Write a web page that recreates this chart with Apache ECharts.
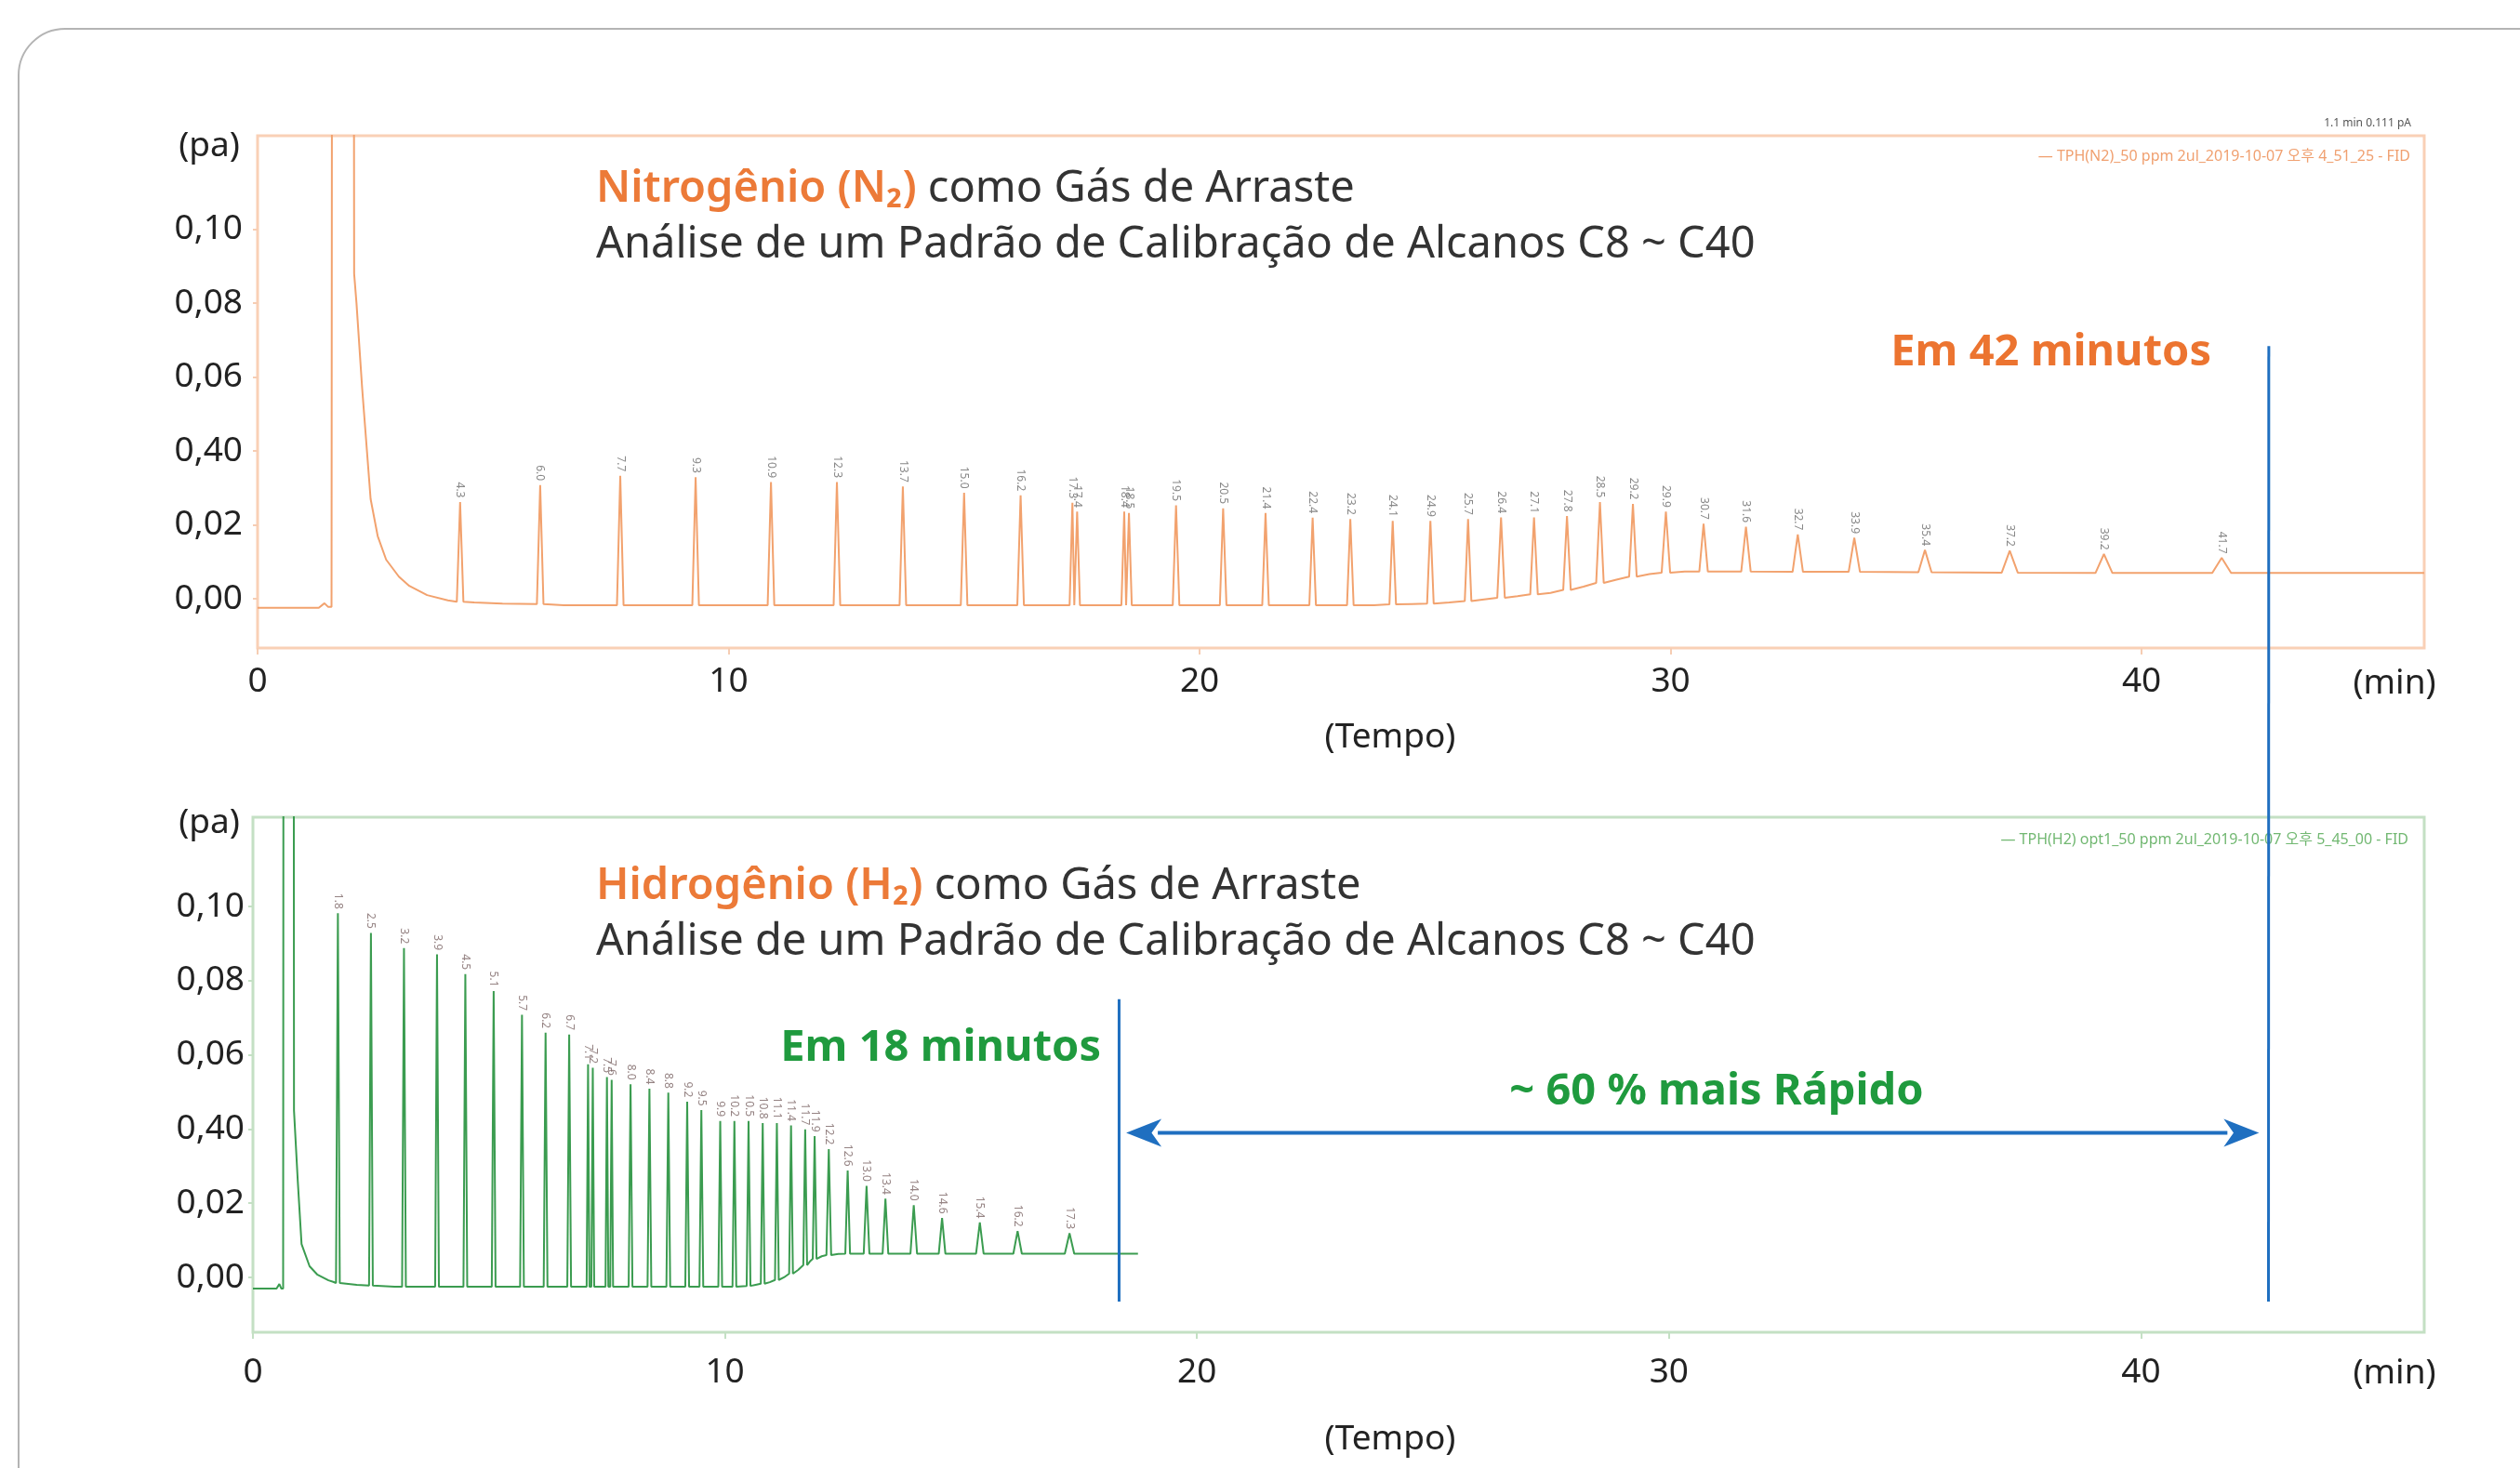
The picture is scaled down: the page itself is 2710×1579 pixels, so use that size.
<!DOCTYPE html>
<html>
<head>
<meta charset="utf-8">
<script src="https://cdn.jsdelivr.net/npm/echarts@6/dist/echarts.min.js"></script>
<style>
html,body{margin:0;padding:0;background:#fff;}
#chart{width:2710px;height:1579px;}
</style>
</head>
<body>
<div id="chart"></div>
<script>
// ---------- DATA ----------
const xTickValues = [0, 10, 20, 30, 40];
const yTickValues = [0, 0.02, 0.04, 0.06, 0.08, 0.10];
const yTickLabels = ['0,00', '0,02', '0,40', '0,06', '0,08', '0,10'];

// N2 carrier gas run: peak retention times (min), apex heights, foot levels, half widths (min)
const n2Times   = [4.3, 6.0, 7.7, 9.3, 10.9, 12.3, 13.7, 15.0, 16.2, 17.3, 17.4, 18.4, 18.5, 19.5, 20.5, 21.4, 22.4, 23.2, 24.1, 24.9, 25.7, 26.4, 27.1, 27.8, 28.5, 29.2, 29.9, 30.7, 31.6, 32.7, 33.9, 35.4, 37.2, 39.2, 41.7];
const n2Heights = [0.0262, 0.0308, 0.0333, 0.0329, 0.0316, 0.0316, 0.0304, 0.0287, 0.0280, 0.0260, 0.0236, 0.0236, 0.0232, 0.0253, 0.0245, 0.0232, 0.0220, 0.0216, 0.0211, 0.0211, 0.0216, 0.0220, 0.0220, 0.0224, 0.0262, 0.0257, 0.0236, 0.0203, 0.0195, 0.0174, 0.0165, 0.0132, 0.0130, 0.0121, 0.0111];
const n2Bases   = [-0.0008, -0.0014, -0.0017, -0.0017, -0.0017, -0.0017, -0.0017, -0.0017, -0.0017, -0.0017, -0.0017, -0.0017, -0.0017, -0.0017, -0.0017, -0.0017, -0.0017, -0.0017, -0.0015, -0.0013, -0.0006, 0.0003, 0.0012, 0.0024, 0.0043, 0.0060, 0.0071, 0.0074, 0.0074, 0.0073, 0.0073, 0.0072, 0.0071, 0.0070, 0.0070];
const n2HalfW   = [0.07, 0.07, 0.07, 0.07, 0.07, 0.07, 0.07, 0.07, 0.07, 0.06, 0.06, 0.06, 0.06, 0.07, 0.07, 0.07, 0.07, 0.07, 0.07, 0.07, 0.07, 0.08, 0.08, 0.08, 0.08, 0.08, 0.09, 0.09, 0.10, 0.11, 0.12, 0.14, 0.17, 0.18, 0.20];
const n2Baseline = [[0, -0.0024], [1.30, -0.0024], [1.42, -0.0012], [1.50, -0.0022], [1.57, -0.0022], [1.60, 0.5], [2.02, 0.5], [2.05, 0.088], [2.10, 0.080], [2.22, 0.057], [2.40, 0.027], [2.55, 0.017], [2.73, 0.0106], [3.00, 0.0060], [3.22, 0.0035], [3.60, 0.0010], [4.04, -0.0004], [4.60, -0.0010], [5.20, -0.0013], [6.50, -0.0017], [23.70, -0.0017], [24.50, -0.0014], [25.30, -0.0010], [26.00, -0.0002], [26.75, 0.0007], [27.45, 0.0016], [28.15, 0.0033], [28.85, 0.0052], [29.55, 0.0067], [30.30, 0.0074], [31.15, 0.0074], [46, 0.0070]];

// H2 carrier gas run
const h2Times   = [1.8, 2.5, 3.2, 3.9, 4.5, 5.1, 5.7, 6.2, 6.7, 7.1, 7.2, 7.5, 7.6, 8.0, 8.4, 8.8, 9.2, 9.5, 9.9, 10.2, 10.5, 10.8, 11.1, 11.4, 11.7, 11.9, 12.2, 12.6, 13.0, 13.4, 14.0, 14.6, 15.4, 16.2, 17.3];
const h2Heights = [0.0982, 0.0929, 0.0888, 0.0871, 0.0818, 0.0772, 0.0708, 0.0660, 0.0655, 0.0575, 0.0565, 0.0540, 0.0533, 0.0521, 0.0509, 0.0498, 0.0474, 0.0451, 0.0422, 0.0422, 0.0422, 0.0416, 0.0416, 0.0410, 0.0399, 0.0381, 0.0346, 0.0288, 0.0247, 0.0212, 0.0195, 0.0160, 0.0148, 0.0125, 0.0119];
const h2Bases   = [-0.0015, -0.0022, -0.0025, -0.0025, -0.0025, -0.0025, -0.0025, -0.0025, -0.0025, -0.0025, -0.0025, -0.0025, -0.0025, -0.0025, -0.0025, -0.0025, -0.0025, -0.0025, -0.0025, -0.0025, -0.0023, -0.0017, -0.0007, 0.0010, 0.0033, 0.0050, 0.0060, 0.0064, 0.0064, 0.0064, 0.0064, 0.0064, 0.0064, 0.0064, 0.0064];
const h2HalfW   = [0.04, 0.04, 0.04, 0.04, 0.04, 0.04, 0.04, 0.04, 0.04, 0.03, 0.03, 0.03, 0.03, 0.04, 0.04, 0.04, 0.04, 0.04, 0.04, 0.04, 0.04, 0.04, 0.04, 0.04, 0.04, 0.04, 0.05, 0.05, 0.06, 0.06, 0.07, 0.07, 0.08, 0.09, 0.10];
const h2Baseline = [[0, -0.0030], [0.50, -0.0030], [0.56, -0.0018], [0.60, -0.0030], [0.64, -0.0030], [0.66, 0.5], [0.85, 0.5], [0.87, 0.045], [0.95, 0.026], [1.03, 0.009], [1.20, 0.003], [1.36, 0.0008], [1.60, -0.0008], [1.70, -0.0012], [2.20, -0.0020], [3.00, -0.0025], [10.05, -0.0025], [10.65, -0.0020], [10.95, -0.0013], [11.25, 0.0000], [11.55, 0.0020], [11.80, 0.0043], [12.05, 0.0057], [12.40, 0.0063], [18.75, 0.0064]];

// run end markers (min) and speed-up arrow span
const runEnds = { h2: 18.35, n2: 42.7 };
const arrowSpan = [18.5, 42.5];

// ---------- BUILD ----------
function buildTrace(baseline, times, heights, bases, halfW) {
  const pts = baseline.map(p => [p[0], p[1]]);
  times.forEach((t, i) => {
    pts.push([t - halfW[i], bases[i]], [t, heights[i]], [t + halfW[i], bases[i]]);
  });
  pts.sort((a, b) => a[0] - b[0]);
  return pts;
}
function apexes(times, heights) {
  return times.map((t, i) => [t, heights[i]]);
}

const FONT = '"Noto Sans", "Open Sans", "Noto Sans CJK KR", sans-serif';
const ORANGE_LINE = '#f2a26e';
const GREEN_LINE = '#3b9c50';
const BLUE = '#1f6fc0';

function xAxisFor(gi, tickColor, margin) {
  return {
    type: 'value', gridIndex: gi, min: 0, max: 46,
    axisLine: { show: false, onZero: false },
    splitLine: { show: false },
    axisTick: { show: true, customValues: xTickValues, length: 7, lineStyle: { color: tickColor, width: 2 } },
    axisLabel: { customValues: xTickValues, fontSize: 37, fontFamily: FONT, color: '#222', margin: margin }
  };
}
function yAxisFor(gi, min, max, tickColor, margin) {
  return {
    type: 'value', gridIndex: gi, min: min, max: max,
    axisLine: { show: false, onZero: false },
    splitLine: { show: false },
    axisTick: { show: true, customValues: yTickValues, length: 5, lineStyle: { color: tickColor, width: 2 } },
    axisLabel: {
      customValues: yTickValues, fontSize: 37, fontFamily: FONT, color: '#222', margin: margin,
      formatter: v => yTickLabels[Math.round(v / 0.02)]
    }
  };
}
function peakLabelSeries(xi, data, color) {
  return {
    type: 'scatter', xAxisIndex: xi, yAxisIndex: xi, data: data,
    symbolSize: 1, itemStyle: { color: 'rgba(0,0,0,0)' }, silent: true, z: 5,
    label: {
      show: true, position: 'top', distance: 4, rotate: -90, align: 'right', verticalAlign: 'middle',
      fontSize: 12, fontFamily: FONT, color: color,
      formatter: p => p.value[0].toFixed(1)
    }
  };
}

const chart = echarts.init(document.getElementById('chart'), null, { renderer: 'canvas' });

const option = {
  backgroundColor: '#ffffff',
  animation: false,
  grid: [
    { left: 277, top: 146, width: 2330, height: 551, show: true, borderColor: '#f9d0b6', borderWidth: 3, backgroundColor: 'transparent' },
    { left: 272, top: 879, width: 2335, height: 554, show: true, borderColor: '#c4e0c4', borderWidth: 3, backgroundColor: 'transparent' }
  ],
  xAxis: [xAxisFor(0, '#f6cdb3', 18), xAxisFor(1, '#c4e0c4', 25)],
  yAxis: [yAxisFor(0, -0.0133, 0.1253, '#f6cdb3', 16), yAxisFor(1, -0.0148, 0.1241, '#c4e0c4', 9)],
  series: [
    {
      name: 'N2', type: 'line', xAxisIndex: 0, yAxisIndex: 0,
      data: buildTrace(n2Baseline, n2Times, n2Heights, n2Bases, n2HalfW),
      showSymbol: false, symbol: 'none', clip: true,
      lineStyle: { color: ORANGE_LINE, width: 2 }
    },
    peakLabelSeries(0, apexes(n2Times, n2Heights), '#6a6a6a'),
    {
      name: 'H2', type: 'line', xAxisIndex: 1, yAxisIndex: 1,
      data: buildTrace(h2Baseline, h2Times, h2Heights, h2Bases, h2HalfW),
      showSymbol: false, symbol: 'none', clip: true,
      lineStyle: { color: GREEN_LINE, width: 2 }
    },
    peakLabelSeries(1, apexes(h2Times, h2Heights), '#7a6464')
  ]
};
chart.setOption(option);

// ---------- ANNOTATIONS ----------
const px = (gi, x, y) => chart.convertToPixel({ gridIndex: gi }, [x, y]);
const n2Top = px(0, runEnds.n2, 0.0684);
const n2Bot = px(1, runEnds.n2, -0.0065);
const h2Top = px(1, runEnds.h2, 0.075);
const h2Bot = px(1, runEnds.h2, -0.0065);
const aL = px(1, arrowSpan[0], 0.039);
const aR = px(1, arrowSpan[1], 0.039);
const head = 38, halfHead = 15;

function txt(x, y, text, size, fill, extra) {
  return { type: 'text', x: x, y: y, z: 20, style: Object.assign({ text: text, fontSize: size, fontFamily: FONT, fill: fill, verticalAlign: 'middle', align: 'left' }, extra || {}) };
}

const titleRich = { o: { fill: '#ec7a38', fontWeight: 600, fontSize: 47, fontFamily: FONT } };

chart.setOption({
  graphic: [
    { type: 'rect', z: -10, shape: { x: 20, y: 31, width: 2800, height: 1700, r: 50 }, style: { fill: 'none', stroke: '#b4b4b4', lineWidth: 2 } },
    // top panel texts
    txt(225, 157, '(pa)', 37, '#222', { align: 'center' }),
    txt(641, 204, '{o|Nitrogênio (N₂)} como Gás de Arraste', 47, '#333', { rich: titleRich }),
    txt(641, 264, 'Análise de um Padrão de Calibração de Alcanos C8 ~ C40', 47, '#333'),
    txt(2378, 380, 'Em 42 minutos', 47, '#ec7430', { align: 'right', fontWeight: 'bold' }),
    txt(2593, 133, '1.1 min 0.111 pA', 12, '#555', { align: 'right' }),
    txt(2592, 168, '— TPH(N2)_50 ppm 2ul_2019-10-07 오후 4_51_25 - FID', 16, '#f0a070', { align: 'right' }),
    txt(2575, 735, '(min)', 37, '#222', { align: 'center' }),
    txt(1495, 793, '(Tempo)', 37, '#222', { align: 'center' }),
    // bottom panel texts
    txt(225, 885, '(pa)', 37, '#222', { align: 'center' }),
    txt(641, 954, '{o|Hidrogênio (H₂)} como Gás de Arraste', 47, '#333', { rich: titleRich }),
    txt(641, 1014, 'Análise de um Padrão de Calibração de Alcanos C8 ~ C40', 47, '#333'),
    txt(1184, 1128, 'Em 18 minutos', 47, '#1f9a3e', { align: 'right', fontWeight: 'bold' }),
    txt(1846, 1175, '~ 60 % mais Rápido', 47, '#1f9a3e', { align: 'center', fontWeight: 'bold' }),
    txt(2590, 903, '— TPH(H2) opt1_50 ppm 2ul_2019-10-07 오후 5_45_00 - FID', 16, '#72b872', { align: 'right' }),
    txt(2575, 1477, '(min)', 37, '#222', { align: 'center' }),
    txt(1495, 1548, '(Tempo)', 37, '#222', { align: 'center' }),
    // run-end markers
    { type: 'line', z: 30, shape: { x1: n2Top[0], y1: n2Top[1], x2: n2Bot[0], y2: n2Bot[1] }, style: { stroke: BLUE, lineWidth: 3 } },
    { type: 'line', z: 30, shape: { x1: h2Top[0], y1: h2Top[1], x2: h2Bot[0], y2: h2Bot[1] }, style: { stroke: BLUE, lineWidth: 3 } },
    // arrow
    { type: 'line', z: 30, shape: { x1: aL[0] + head - 4, y1: aL[1], x2: aR[0] - head + 4, y2: aR[1] }, style: { stroke: BLUE, lineWidth: 4 } },
    { type: 'polygon', z: 30, shape: { points: [[aL[0], aL[1]], [aL[0] + head, aL[1] - halfHead], [aL[0] + head * 0.72, aL[1]], [aL[0] + head, aL[1] + halfHead]] }, style: { fill: BLUE } },
    { type: 'polygon', z: 30, shape: { points: [[aR[0], aR[1]], [aR[0] - head, aR[1] - halfHead], [aR[0] - head * 0.72, aR[1]], [aR[0] - head, aR[1] + halfHead]] }, style: { fill: BLUE } }
  ]
});
</script>
</body>
</html>
